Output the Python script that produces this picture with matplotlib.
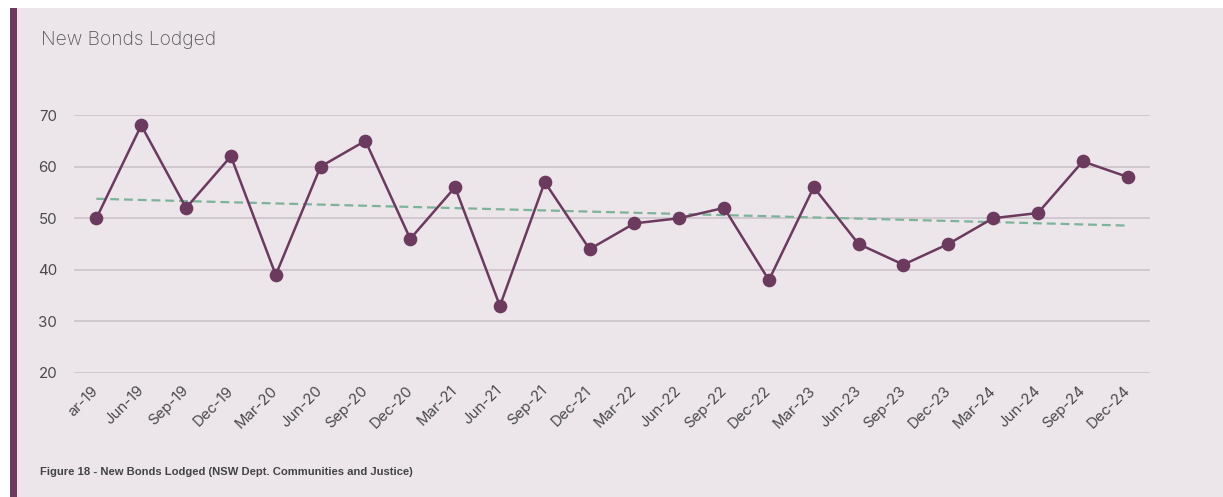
import numpy as np
import matplotlib
matplotlib.use("Agg")
import matplotlib.pyplot as plt
from matplotlib.patches import Rectangle

quarters = ["ar-19", "Jun-19", "Sep-19", "Dec-19", "Mar-20", "Jun-20", "Sep-20", "Dec-20",
            "Mar-21", "Jun-21", "Sep-21", "Dec-21", "Mar-22", "Jun-22", "Sep-22", "Dec-22",
            "Mar-23", "Jun-23", "Sep-23", "Dec-23", "Mar-24", "Jun-24", "Sep-24", "Dec-24"]
bonds_lodged = [50, 68, 52, 62, 39, 60, 65, 46, 56, 33, 57, 44,
                49, 50, 52, 38, 56, 45, 41, 45, 50, 51, 61, 58]
y_ticks = [20, 30, 40, 50, 60, 70]

BG = "#ECE5EA"
PLUM = "#6B3A5E"
GREEN = "#7DB39A"
GRID = "#C9C1C7"
TEXT = "#4A4A4A"

W, H = 1223, 497
fig = plt.figure(figsize=(W / 100, H / 100), dpi=100)
fig.patch.set_facecolor("white")

# Panel background and left accent bar
fig.add_artist(Rectangle((10 / W, 0), 1 - 10 / W, 1 - 8 / H, transform=fig.transFigure,
                         facecolor=BG, edgecolor="none", zorder=0))
fig.add_artist(Rectangle((10 / W, 0), 7 / W, 1 - 8 / H, transform=fig.transFigure,
                         facecolor=PLUM, edgecolor="none", zorder=1))

ax = fig.add_axes([74 / W, 124 / H, (1150 - 74) / W, (373 - 115) / H])
ax.set_facecolor("none")

x = np.arange(len(bonds_lodged))

# Linear trend through the quarterly series
coef = np.polyfit(x, bonds_lodged, 1)
ax.plot(x, np.polyval(coef, x), color=GREEN, lw=1.6, ls=(0, (4, 2.2)), zorder=2)

ax.plot(x, bonds_lodged, color=PLUM, lw=1.8, marker="o", markersize=8.8, zorder=3)

ax.set_xlim(-0.5, len(x) - 0.5)
ax.set_ylim(20, 70)
ax.set_yticks(y_ticks)
ax.yaxis.grid(True, color=GRID, lw=1.1)
ax.set_axisbelow(True)
for s in ax.spines.values():
    s.set_visible(False)
ax.tick_params(axis="both", length=0, colors=TEXT, labelsize=10.8)
ax.tick_params(axis="y", pad=12)
ax.set_xticks(x)
ax.set_xticklabels(quarters, rotation=45, ha="right", va="center", rotation_mode="anchor",
                   fontfamily="Inter")
ax.tick_params(axis="x", pad=11)
for lbl in ax.get_yticklabels():
    lbl.set_fontfamily("Inter")

fig.text(41 / W, 1 - 40 / H, "New Bonds Lodged", fontsize=13.8, color="#585858",
         fontfamily="Inter", fontweight="light", va="center", ha="left")
fig.text(40 / W, 1 - 472 / H, "Figure 18 - New Bonds Lodged (NSW Dept. Communities and Justice)",
         fontsize=8.1, color="#444444", fontfamily="Liberation Sans", fontweight="bold",
         va="center", ha="left")

fig.savefig("out.png", dpi=100, facecolor=fig.get_facecolor())
